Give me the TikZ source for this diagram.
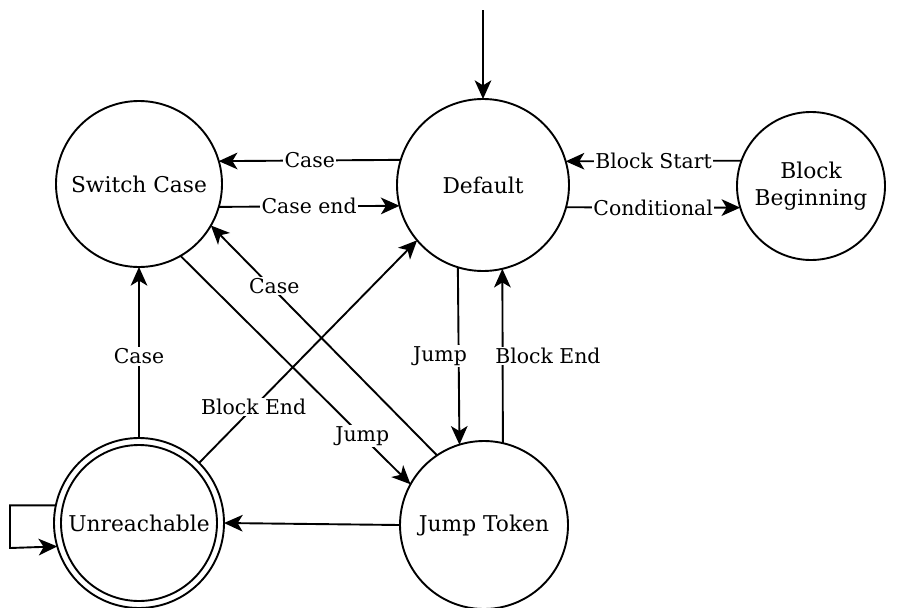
\documentclass[tikz,border=0pt]{standalone}
\usepackage{fontspec}
\setmainfont{DejaVu Serif}
\usetikzlibrary{arrows.meta,calc}

\tikzset{
  state/.style={circle, draw, line width=1.9pt*0.75, outer sep=0pt, inner sep=0pt,
                align=center, font=\fontsize{16.3}{20}\selectfont},
  edge/.style={line width=1.9pt*0.75, -{Stealth[length=14pt,width=12.5pt,inset=3.8pt]}},
  elabel/.style={fill=white, inner sep=1pt, font=\fontsize{15.3}{18}\selectfont},
}

\begin{document}
\begin{tikzpicture}[x=0.75pt, y=-0.75pt]
  \useasboundingbox (0,0) rectangle (899,607);

  % states
  \node[state, minimum size=166*0.75pt] (sw)  at (139,184) {Switch Case};
  \node[state, minimum size=172*0.75pt] (def) at (483,185) {Default};
  \node[state, minimum size=148*0.75pt] (bb)  at (811,186) {Block\\Beginning};
  \node[state, minimum size=170*0.75pt] (un)  at (139,523) {Unreachable};
  \draw[line width=1.9pt*0.75] (un.center) circle[radius=78*0.75pt];
  \node[state, minimum size=168*0.75pt] (jt)  at (484,525) {Jump Token};

  % initial arrow
  \coordinate (start) at (483,10);
  \draw[edge] (start) -- (def.north);

  % top row
  \draw[edge] (def.163.1) -- node[elabel] {Case} (sw.16.8);
  \draw[edge] (sw.-16.1) -- node[elabel] {Case end} (def.194.8);
  \draw[edge] (bb.160.3) -- node[elabel] {Block Start} (def.16.2);
  \draw[edge] (def.-15.5) -- node[elabel] {Conditional} (bb.197.3);

  % Default <-> Jump Token
  \draw[edge] (def.253.8) -- node[elabel, xshift=-14pt] {Jump} (jt.107.3);
  \draw[edge] (jt.77.6) -- node[elabel, xshift=34pt] {Block End} (def.-77.2);

  % diagonals
  \draw[edge] (sw.-60.7) -- node[elabel, pos=0.79] {Jump} (jt.151);
  \draw[edge] (jt.124.7) -- node[elabel, pos=0.72, yshift=3pt] {Case} (sw.-30.7);
  \draw[edge] (un.45.5) -- node[elabel, pos=0.25] {Block End} (def.220.6);

  % Unreachable
  \draw[edge] (un.north) -- node[elabel, yshift=-3pt] {Case} (sw.south);
  \draw[edge] (jt.west) -- (un.east);
  \draw[edge] (un.168) -| (10,548) -- (un.196);
\end{tikzpicture}
\end{document}
